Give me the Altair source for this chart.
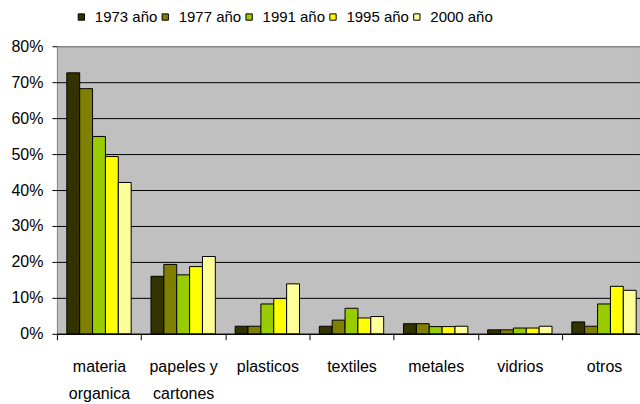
import altair as alt
import pandas as pd

# Waste composition by category and year (share of total)
categories = ["materia organica", "papeles y cartones", "plasticos", "textiles",
              "metales", "vidrios", "otros"]
years = ["1973 año", "1977 año", "1991 año", "1995 año", "2000 año"]
v1973 = [72.6, 16.0, 2.1, 2.1, 2.8, 1.1, 3.3]
v1977 = [68.2, 19.3, 2.1, 3.8, 2.8, 1.1, 2.1]
v1991 = [54.9, 16.4, 8.3, 7.1, 2.0, 1.6, 8.3]
v1995 = [49.3, 18.7, 9.8, 4.4, 2.0, 1.6, 13.2]
v2000 = [42.1, 21.5, 13.9, 4.8, 2.1, 2.1, 12.1]
colors = ["#333300", "#808000", "#99CC00", "#FFFF00", "#FFFF99"]
y_ticks = [0, 0.1, 0.2, 0.3, 0.4, 0.5, 0.6, 0.7, 0.8]

series = [v1973, v1977, v1991, v1995, v2000]
rows = []
for year, vals in zip(years, series):
    for cat, v in zip(categories, vals):
        rows.append({"categoria": cat, "serie": year, "valor": v / 100})
df = pd.DataFrame(rows)

FONT = "Liberation Sans, Arial, sans-serif"

label_expr = ("datum.value == 'materia organica' ? ['materia', 'organica'] : "
              "datum.value == 'papeles y cartones' ? ['papeles y', 'cartones'] : datum.label")

chart = alt.Chart(df).mark_bar(stroke="black", strokeWidth=1).encode(
    x=alt.X("categoria:N", sort=categories, title=None,
            scale=alt.Scale(paddingInner=0, paddingOuter=0, range=[0, 590.1]),
            axis=alt.Axis(labelAngle=0, labelExpr=label_expr, labelFont=FONT,
                          labelFontSize=16, labelColor="black", labelLineHeight=27,
                          labelBaseline="top", labelPadding=19, tickSize=6,
                          tickColor="black", domainColor="black", tickBand="extent",
                          labelAlign="center")),
    xOffset=alt.XOffset("serie:N", sort=years,
                        scale=alt.Scale(paddingInner=0, paddingOuter=0.77)),
    y=alt.Y("valor:Q", title=None,
            scale=alt.Scale(domain=[0, 0.8], nice=False),
            axis=alt.Axis(values=y_ticks, format=".0%", labelFont=FONT,
                          labelFontSize=16, labelColor="black", labelPadding=9,
                          tickSize=5, tickColor="black", domain=False,
                          gridColor=alt.condition("datum.value >= 0.79",
                                                  alt.value("#808080"),
                                                  alt.value("#000000")),
                          gridWidth=1, gridOpacity=1)),
    color=alt.Color("serie:N", sort=years,
                    scale=alt.Scale(domain=years, range=colors),
                    legend=alt.Legend(title=None, orient="none", direction="horizontal",
                                      columns=5, legendX=17, legendY=-37,
                                      symbolType="square", symbolSize=40,
                                      symbolStrokeColor="black", symbolStrokeWidth=1,
                                      labelFont=FONT, labelFontSize=15,
                                      labelColor="black", labelOffset=6,
                                      columnPadding=-3)),
).properties(
    width=584,
    height=288,
    autosize=alt.AutoSizeParams(type="none"),
    padding={"left": 57, "top": 46, "right": 0, "bottom": 70},
).configure_view(
    fill="#C0C0C0", stroke="#808080", strokeWidth=1
)

chart.save("out.html", embed_options={"renderer": "svg", "actions": False})
